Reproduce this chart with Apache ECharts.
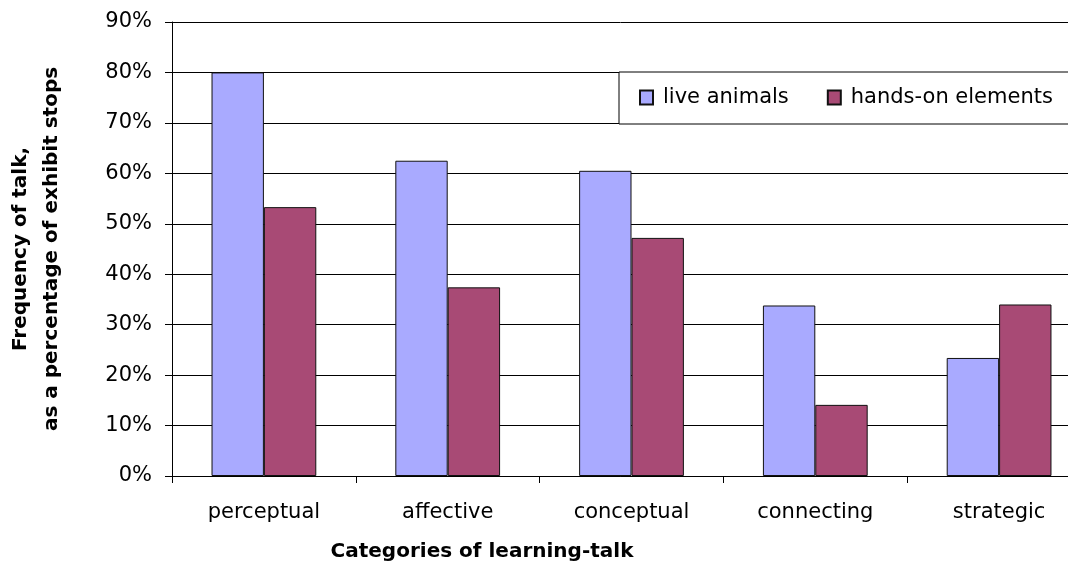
<!DOCTYPE html>
<html>
<head>
<meta charset="utf-8">
<script src="https://cdn.jsdelivr.net/npm/echarts@6/dist/echarts.min.js"></script>
<style>
html,body{margin:0;padding:0;background:#fff;}
#chart{width:1068px;height:565px;}
</style>
</head>
<body>
<div id="chart"></div>
<script>
const categories = ['perceptual', 'affective', 'conceptual', 'connecting', 'strategic'];
const liveAnimals = [80.0, 62.5, 60.5, 33.8, 23.4];
const handsOn = [53.3, 37.4, 47.2, 14.1, 34.0];
const seriesNames = ['live animals', 'hands-on elements'];
const yTitle = 'Frequency of talk,\nas a percentage of exhibit stops';
const xTitle = 'Categories of learning-talk';

const chart = echarts.init(document.getElementById('chart'), null, {renderer: 'canvas'});
const font = 'DejaVu Sans';
chart.setOption({
  animation: false,
  backgroundColor: '#ffffff',
  title: {
    text: xTitle,
    left: 482,
    textAlign: 'center',
    top: 542,
    padding: 0,
    textStyle: {fontFamily: font, fontSize: 20, fontWeight: 'bold', color: '#000'}
  },
  legend: {
    data: seriesNames,
    orient: 'horizontal',
    left: 619,
    top: 72,
    width: 700,
    padding: [15, 30, 16, 20],
    backgroundColor: '#fff',
    borderColor: '#000',
    borderWidth: 1,
    itemWidth: 13,
    itemHeight: 14,
    itemGap: 38,
    icon: 'rect',
    textStyle: {fontFamily: font, fontSize: 21, color: '#000', padding: [0, 0, 0, 5]}
  },
  grid: {left: 172, right: -23, top: 22, bottom: 89, containLabel: false, outerBoundsMode: 'none'},
  xAxis: {
    type: 'category',
    data: categories,
    axisLine: {lineStyle: {color: '#000', width: 1}},
    axisTick: {show: true, length: 7, alignWithLabel: false, lineStyle: {color: '#000'}},
    axisLabel: {fontFamily: font, fontSize: 21, color: '#000', margin: 26},
    splitLine: {show: false}
  },
  yAxis: {
    type: 'value',
    min: 0,
    max: 90,
    interval: 10,
    name: yTitle,
    nameLocation: 'middle',
    nameGap: 105,
    nameTextStyle: {fontFamily: font, fontSize: 20, fontWeight: 'bold', color: '#000', lineHeight: 31},
    axisLine: {show: true, lineStyle: {color: '#000', width: 1}},
    axisTick: {show: true, length: 7, lineStyle: {color: '#000'}},
    axisLabel: {fontFamily: font, fontSize: 21, color: '#000', margin: 20, formatter: '{value}%'},
    splitLine: {show: true, lineStyle: {color: '#000', width: 1}}
  },
  series: [
    {
      name: seriesNames[0],
      type: 'bar',
      data: liveAnimals,
      barGap: '0%',
      barCategoryGap: '43%',
      itemStyle: {color: '#A9AAFF', borderColor: '#111', borderWidth: 1}
    },
    {
      name: seriesNames[1],
      type: 'bar',
      data: handsOn,
      itemStyle: {color: '#A84A75', borderColor: '#111', borderWidth: 1}
    }
  ]
});
</script>
</body>
</html>
